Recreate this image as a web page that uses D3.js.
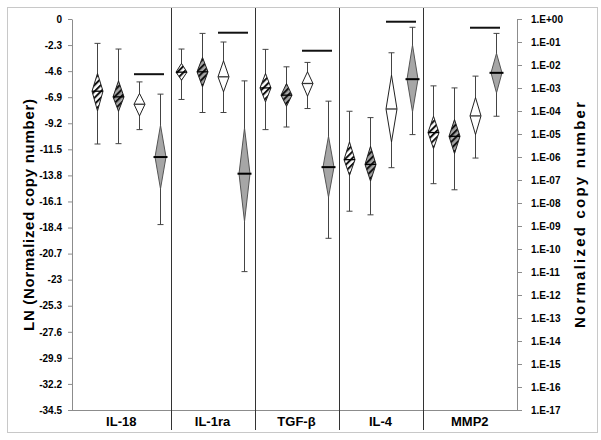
<!DOCTYPE html>
<html><head><meta charset="utf-8">
<script src="https://cdn.jsdelivr.net/npm/d3@7"></script>
<style>body{margin:0;background:#fff} text{font-family:"Liberation Sans",Arial,sans-serif}</style>
</head><body><svg id="c" width="601" height="440"></svg>
<script>
const categories = ["IL-18","IL-1ra","TGF-β","IL-4","MMP2"];
const seriesStyle = ["hatchWhite","hatchGray","white","gray"];
const means   = [[-6.37,-6.87,-7.52,-12.18],[-4.69,-4.66,-5.10,-13.65],[-6.08,-6.72,-5.69,-13.07],[-12.41,-12.83,-7.94,-5.31],[-10.02,-10.35,-8.55,-4.75]];
const ciHigh  = [[-4.80,-5.46,-6.57,-9.38],[-3.92,-3.39,-3.69,-9.62],[-4.80,-5.69,-4.66,-10.35],[-10.85,-11.23,-4.95,-2.30],[-8.58,-8.87,-6.93,-3.03]];
const ciLow   = [[-8.11,-8.14,-8.55,-14.98],[-5.40,-5.99,-6.43,-17.87],[-7.32,-7.70,-6.81,-15.72],[-13.80,-14.30,-10.85,-8.20],[-11.44,-11.88,-10.20,-6.52]];
const maxVals = [[-2.15,-2.65,-5.55,-6.63],[-2.65,-1.27,-2.03,-5.46],[-2.68,-4.22,-3.83,-7.25],[-8.14,-8.70,-2.98,-0.73],[-5.90,-6.08,-5.04,-1.27]];
const minVals = [[-11.03,-11.00,-9.76,-18.14],[-7.10,-8.25,-8.25,-22.29],[-9.76,-9.53,-7.90,-19.35],[-16.96,-17.28,-13.12,-10.20],[-14.53,-15.07,-12.27,-8.58]];
const sigBars = [-4.87,-1.21,-2.80,-0.24,-0.77];
const leftTicks = [0,-2.3,-4.6,-6.9,-9.2,-11.5,-13.8,-16.1,-18.4,-20.7,-23,-25.3,-27.6,-29.9,-32.2,-34.5];
const leftTickLabels = ["0","-2.3","-4.6","-6.9","-9.2","-11.5","-13.8","-16.1","-18.4","-20.7","-23","-25.3","-27.6","-29.9","-32.2","-34.5"];
const rightTicks = [1e0,1e-1,1e-2,1e-3,1e-4,1e-5,1e-6,1e-7,1e-8,1e-9,1e-10,1e-11,1e-12,1e-13,1e-14,1e-15,1e-16,1e-17];
const rightTickLabels = ["1.E+00","1.E-01","1.E-02","1.E-03","1.E-04","1.E-05","1.E-06","1.E-07","1.E-08","1.E-09","1.E-10","1.E-11","1.E-12","1.E-13","1.E-14","1.E-15","1.E-16","1.E-17"];

const svg = d3.select("#c");
const L = 72, R = 517, T = 19, B = 410;
const y = d3.scaleLinear().domain([-34.5, 0]).range([B, T]);
const yR = d3.scaleLog().domain([1e-17, 1]).range([B, T]);
const x = d3.scaleLinear().domain([0, 19]).range([97, 496]);
const idx = (g, s) => g * 4 + s;

// patterns
const defs = svg.append("defs");
[["hatchWhite","#ffffff"],["hatchGray","#a6a6a6"]].forEach(([id, bg]) => {
  const p = defs.append("pattern").attr("id", id).attr("patternUnits","userSpaceOnUse")
    .attr("width", 4.5).attr("height", 4.5).attr("patternTransform","rotate(-45)");
  p.append("rect").attr("width",4.5).attr("height",4.5).attr("fill",bg);
  p.append("rect").attr("width",4.5).attr("height",2).attr("fill","#111");
});

// outer border
svg.append("rect").attr("x",7.5).attr("y",7.5).attr("width",590).attr("height",425)
  .attr("fill","none").attr("stroke","#c8c8c8");

// axes
const gl = svg.append("g").attr("transform",`translate(${L},0)`)
  .call(d3.axisLeft(y).tickValues(leftTicks).tickFormat((d,i)=>leftTickLabels[i]).tickSize(4).tickPadding(6).tickSizeOuter(0));
const gr = svg.append("g").attr("transform",`translate(${R},0)`)
  .call(d3.axisRight(yR).tickValues(rightTicks).tickFormat((d,i)=>rightTickLabels[i]).tickSize(5).tickPadding(9).tickSizeOuter(0));
[gl, gr].forEach(g => {
  g.select(".domain").attr("stroke","#8c8c8c");
  g.selectAll(".tick line").attr("stroke","#8c8c8c");
  g.selectAll(".tick text").attr("fill","#000").style("font-size","10px").style("font-weight","bold")
   .style("font-family",'"Liberation Sans",Arial,sans-serif');
});
// bottom axis line
svg.append("line").attr("x1",L).attr("x2",R).attr("y1",B+0.5).attr("y2",B+0.5).attr("stroke","#8c8c8c");

// separators
categories.slice(1).forEach((c, g) => {
  const sx = Math.round(x(idx(g, 3) + 0.5)) + 0.5;
  svg.append("line").attr("x1",sx).attr("x2",sx).attr("y1",8).attr("y2",430).attr("stroke","#333");
});

// category labels
categories.forEach((c, g) => {
  const lo = g === 0 ? L : x(idx(g,0) - 0.5);
  const hi = g === 4 ? R : x(idx(g,3) + 0.5);
  svg.append("text").attr("x",(lo+hi)/2).attr("y",426).attr("text-anchor","middle")
    .style("font-size","13px").style("font-weight","bold").text(c);
});

// titles
svg.append("text").attr("transform",`translate(34,215) rotate(-90)`).attr("text-anchor","middle")
  .attr("textLength",232).attr("lengthAdjust","spacing")
  .style("font-size","15px").style("font-weight","bold").text("LN (Normalized copy number)");
svg.append("text").attr("transform",`translate(585,215) rotate(-90)`).attr("text-anchor","middle")
  .attr("textLength",226).attr("lengthAdjust","spacing")
  .style("font-size","15px").style("font-weight","bold").text("Normalized copy number");

// marks
const hw = 5.5, cap = 3;
categories.forEach((c, g) => {
  for (let s = 0; s < 4; s++) {
    const cx = Math.round(x(idx(g, s))) + 0.5;
    const grp = svg.append("g");
    grp.append("line").attr("x1",cx).attr("x2",cx).attr("y1",y(maxVals[g][s])).attr("y2",y(minVals[g][s])).attr("stroke","#444");
    [maxVals[g][s], minVals[g][s]].forEach(v => grp.append("line").attr("x1",cx-cap).attr("x2",cx+cap)
      .attr("y1",y(v)).attr("y2",y(v)).attr("stroke","#444"));
    const st = seriesStyle[s];
    const fill = st === "white" ? "#fff" : st === "gray" ? "#a6a6a6" : `url(#${st})`;
    const pts = [[cx, y(ciHigh[g][s])],[cx+hw, y(means[g][s])],[cx, y(ciLow[g][s])],[cx-hw, y(means[g][s])]];
    grp.append("path").attr("d", d3.line()(pts) + "Z").attr("fill", fill)
      .attr("stroke", st === "gray" ? "#555" : "#222").attr("stroke-width", 1);
    const mw = st === "gray" ? hw + 1.5 : hw;
    grp.append("line").attr("x1",cx-mw).attr("x2",cx+mw).attr("y1",y(means[g][s])).attr("y2",y(means[g][s]))
      .attr("stroke", st === "white" ? "#333" : "#000").attr("stroke-width", st === "gray" ? 2 : 1.3);
  }
  // significance bar
  svg.append("line").attr("x1",x(idx(g,2))-5).attr("x2",x(idx(g,3))+4)
    .attr("y1",y(sigBars[g])).attr("y2",y(sigBars[g])).attr("stroke","#111").attr("stroke-width",2);
});
</script></body></html>
